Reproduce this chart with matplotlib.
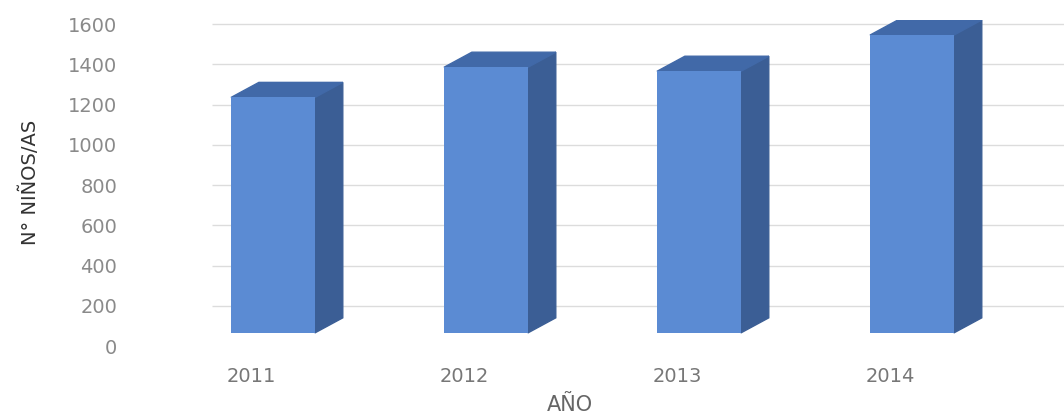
import numpy as np
import matplotlib
matplotlib.use('Agg')
import matplotlib.pyplot as plt
from matplotlib.patches import Polygon

years = ['2011', '2012', '2013', '2014']
ninos = [1170, 1320, 1300, 1480]
yticks = [0, 200, 400, 600, 800, 1000, 1200, 1400, 1600]

front = '#5b8bd3'
side = '#3b5e95'
top = '#4169a8'

floor = 65      # front edge of the 3d floor, in value units
depth_x = 0.131
depth_y = 75
width = 0.394

fig = plt.figure(figsize=(10.64, 4.16), dpi=100)
ax = fig.add_axes([120 / 1064, 70 / 416, 944 / 1064, 326 / 416])

x = np.arange(len(years))
ax.hlines(yticks[1:], -0.286, 3.714, color='#dcdcdc', linewidth=1, zorder=0)

ax.bar(x, ninos, width=width, bottom=floor, color=front, zorder=3)
for xi, v in zip(x, ninos):
    r = xi + width / 2
    l = xi - width / 2
    t = floor + v
    ax.add_patch(Polygon([(r, floor), (r + depth_x, floor + depth_y),
                          (r + depth_x, t + depth_y), (r, t)],
                         closed=True, color=side, zorder=2))
    ax.add_patch(Polygon([(l, t), (r, t), (r + depth_x, t + depth_y),
                          (l + depth_x, t + depth_y)],
                         closed=True, color=top, zorder=2))

ax.set_xlim(-0.718, 3.714)
ax.set_ylim(0, 1620)
ax.set_yticks(yticks)
ax.set_yticklabels([str(t) for t in yticks], color='#8a8a8a', fontsize=14)
ax.set_xticks(x - 0.1)
ax.set_xticklabels(years, color='#777777', fontsize=14)
ax.tick_params(axis='y', length=0, pad=2)
ax.tick_params(axis='x', length=0, pad=15)
for s in ax.spines.values():
    s.set_visible(False)

fig.text(30 / 1064, 1 - 182 / 416, 'N° NIÑOS/AS', rotation=90, ha='center', va='center',
         fontsize=14, color='#333333')
fig.text(570 / 1064, 1 - 405 / 416, 'AÑO', ha='center', va='center',
         fontsize=15, color='#666666')

plt.savefig('out.png', dpi=100)
